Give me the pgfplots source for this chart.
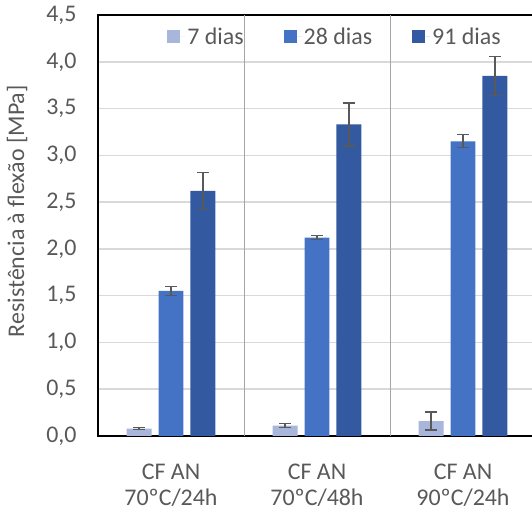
\documentclass[border=0pt]{standalone}
\usepackage{pgfplots}
\pgfplotsset{compat=1.18}
\usepackage{pgfplotstable}
\usepackage{fontspec}
\setmainfont{Carlito}
\definecolor{c7}{HTML}{A9B6DB}
\definecolor{c28}{HTML}{4472C4}
\definecolor{c91}{HTML}{335AA0}
\definecolor{txt}{HTML}{595959}
\definecolor{grd}{HTML}{D9D9D9}
\definecolor{sep}{HTML}{A6A6A6}
\definecolor{errc}{HTML}{595959}
\pgfplotstableread{
x y e
0 0.08 0.01
1 0.11 0.02
2 0.16 0.095
}\dsete
\pgfplotstableread{
x y e
0 1.55 0.05
1 2.12 0.02
2 3.15 0.07
}\dvinteoito
\pgfplotstableread{
x y e
0 2.62 0.20
1 3.33 0.23
2 3.85 0.21
}\dnoventaum
\begin{document}
\begin{tikzpicture}
\begin{axis}[
  at={(98bp,75bp)}, anchor=south west,
  scale only axis, width=438bp, height=421bp,
  xmin=-0.5, xmax=2.5, ymin=0, ymax=4.5,
  ybar, bar width=0.171,
  axis line style={black, line width=1.5bp},
  xtick={0,1,2},
  xticklabels={{CF AN\\70ºC/24h},{CF AN\\70ºC/48h},{CF AN\\90ºC/24h}},
  xticklabel style={align=center, text=txt, font=\fontsize{24}{27}\selectfont, yshift=-24bp},
  ytick={0,0.5,1,1.5,2,2.5,3,3.5,4,4.5},
  yticklabel style={text=txt, font=\fontsize{24}{27}\selectfont, xshift=-18bp},
  /pgf/number format/.cd, fixed, fixed zerofill, precision=1, use comma, assume math mode=true,
  /pgfplots/.cd,
  major tick length=0pt,
  ymajorgrids, major grid style={grd, line width=1.5bp},
  extra x ticks={0.5,1.5}, extra x tick labels={},
  extra x tick style={grid=major, major grid style={sep, line width=0.9bp}},
  ylabel={Resistência à flexão [MPa]},
  every axis y label/.style={at={(rel axis cs:0,0.534)}, xshift=-81bp, rotate=90, anchor=center, text=txt, font=\fontsize{24}{27}\selectfont},
  legend columns=3,
  legend style={at={(rel axis cs:0.541,0.948)}, anchor=center, draw=none, fill=none,
    text=txt, font=\fontsize{24}{27}\selectfont,
    /tikz/every even column/.append style={column sep=38bp}},
  legend image code/.code={\fill[#1] (0bp,-6.5bp) rectangle (13bp,6.5bp);\path (0bp,0bp) -- (18bp,0bp);},
  error bars/error bar style={errc, line width=1.3bp},
  error bars/error mark options={errc, line width=1.3bp, mark size=6bp, rotate=90},
]
\addplot+[bar shift=-0.219, fill=c7, draw=none,
  error bars/.cd, y dir=both, y explicit]
  table[x=x, y=y, y error=e] {\dsete};
\addlegendentry{7 dias}
\addplot+[bar shift=0, fill=c28, draw=none,
  error bars/.cd, y dir=both, y explicit]
  table[x=x, y=y, y error=e] {\dvinteoito};
\addlegendentry{28 dias}
\addplot+[bar shift=0.219, fill=c91, draw=none,
  error bars/.cd, y dir=both, y explicit]
  table[x=x, y=y, y error=e] {\dnoventaum};
\addlegendentry{91 dias}
\end{axis}
\pgfresetboundingbox
\path[use as bounding box] (0,0) rectangle (532bp,511bp);
\end{tikzpicture}
\end{document}
